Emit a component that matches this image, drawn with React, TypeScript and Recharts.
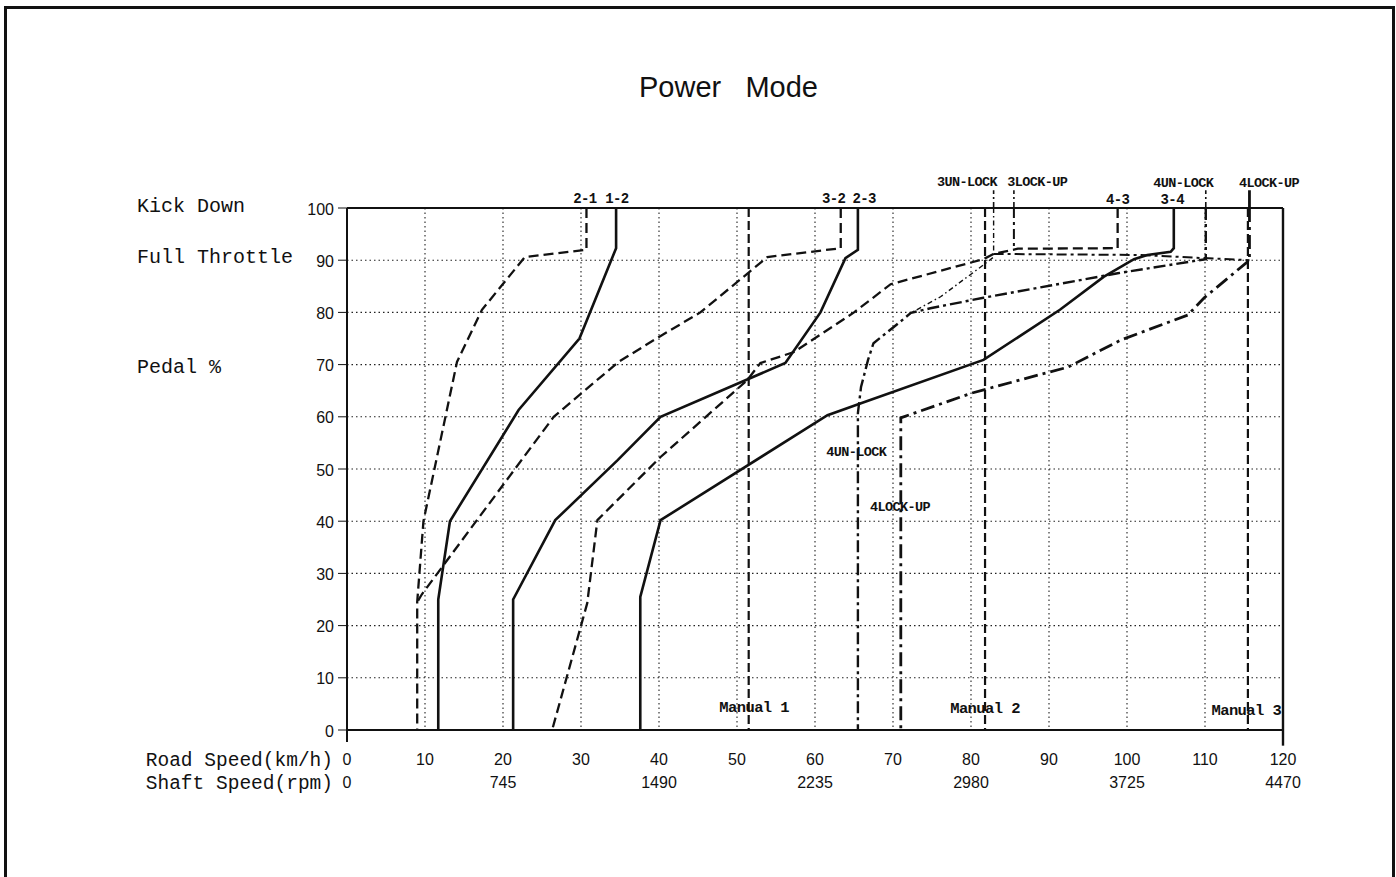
import { LineChart, Line, XAxis, YAxis, CartesianGrid, ReferenceLine, ReferenceDot } from "recharts";

type Pt = [number, number];

// road speed (km/h) vs pedal %
const roadTicks = [0, 10, 20, 30, 40, 50, 60, 70, 80, 90, 100, 110, 120];
const shaftLabels = ["0", "", "745", "", "1490", "", "2235", "", "2980", "", "3725", "", "4470"];
const pedalTicks = [0, 10, 20, 30, 40, 50, 60, 70, 80, 90, 100];

const shift12: Pt[] = [[34.5, 100], [34.5, 92.3], [29.8, 75], [22, 61.3], [13.2, 40], [11.7, 25], [11.7, 0]];
const shift21: Pt[] = [[30.7, 100], [30.7, 92], [22.8, 90.6], [17.3, 80.5], [14.1, 70.5], [9.8, 40], [9, 24.5], [9, 0]];
const shift23: Pt[] = [[65.5, 100], [65.5, 92], [63.9, 90.4], [60.7, 80], [56.2, 70.3], [40.2, 60], [34.7, 51.7], [26.7, 40.2], [21.3, 25], [21.3, 0]];
const shift32: Pt[] = [[63.3, 100], [63.3, 92.3], [53.9, 90.6], [45.3, 80], [40, 75.3], [34.8, 70.5], [26.5, 60], [9.6, 26], [9, 24.5]];
const shift34: Pt[] = [[106, 100], [106, 92.3], [105.6, 91.6], [102.6, 91], [100.9, 90.2], [97, 86.8], [91.4, 80.5], [81.6, 70.9], [65.9, 62.6], [61.6, 60.3], [40.2, 40.2], [37.6, 25.5], [37.6, 0]];
const shift43: Pt[] = [[98.8, 100], [98.8, 92.3], [86, 92.2], [82.9, 91.2], [81.6, 90.2], [69.7, 85.4], [65, 80], [57.3, 72.4], [53, 70.3], [51.3, 67], [40.2, 52.3], [32.1, 40.2], [30.8, 24.3], [26.3, 0]];

const unlock3: Pt[] = [[82.9, 100], [82.9, 90.6], [81.6, 89.1], [76.1, 83], [72.3, 79.9]];
const lockup3: Pt[] = [[85.5, 100], [85.5, 92.3]];
const lockup3Link: Pt[] = [[82.9, 91.2], [101.8, 91], [109.9, 90.4], [115.7, 90]];
const unlock4: Pt[] = [[110.1, 100], [110.1, 90.2], [98.8, 87.5], [81.6, 82.8], [74.8, 80.8], [72.3, 79.9], [70.1, 77.2], [67.5, 74.1], [66.8, 70.9], [65.9, 65.7], [65.5, 60.7], [65.5, 0]];
const lockup4: Pt[] = [[115.7, 100], [115.7, 90], [109.9, 82.8], [107.8, 79.5], [99.2, 74.7], [92.4, 69.5], [88.6, 68], [80, 64.5], [71, 59.8], [71, 0]];

const manual1: Pt[] = [[51.5, 100], [51.5, 0]];
const manual2: Pt[] = [[81.8, 100], [81.8, 0]];
const manual3: Pt[] = [[115.5, 100], [115.5, 0]];

// stubs of the lock lines above the frame
const lockStubs = [82.9, 85.5, 110.1, 115.7];

const shiftNames = ["2-1", "1-2", "3-2", "2-3", "4-3", "3-4"];
const shiftNameX = [30.5, 34.6, 62.4, 66.3, 98.8, 105.8];
const lockNames = ["3UN-LOCK", "3LOCK-UP", "4UN-LOCK", "4LOCK-UP", "4UN-LOCK", "4LOCK-UP"];
const lockNameX = [79.5, 88.5, 107.2, 118.2, 65.3, 70.9];
const lockNameY = [104.2, 104.2, 104, 104, 52.5, 42];
const manualNames = ["Manual 1", "Manual 2", "Manual 3"];
const manualNameX = [52.2, 81.8, 115.3];
const manualNameY = [3.4, 3.3, 2.9];

const ink = "#111";
const toData = (pts: Pt[]) => pts.map(([x, y]) => ({ x, y }));

function SpeedTick(props: any) {
  const { x, y, payload } = props;
  const i = roadTicks.indexOf(payload.value);
  return (
    <g fontFamily="Liberation Sans, Arial, sans-serif" fontSize={16} fill={ink}>
      <text x={x} y={y + 35} textAnchor="middle">{payload.value}</text>
      <text x={x} y={y + 58} textAnchor="middle">{shaftLabels[i]}</text>
      {payload.value === 0 && (
        <g fontFamily="Liberation Mono, monospace" fontSize={19.5}>
          <text x={x - 14} y={y + 36} textAnchor="end">Road Speed(km/h)</text>
          <text x={x - 14} y={y + 59} textAnchor="end">Shaft Speed(rpm)</text>
        </g>
      )}
    </g>
  );
}

function tag(text: string, size: number) {
  return (p: any) => (
    <text x={p.cx} y={p.cy} textAnchor="middle" fontFamily="Liberation Mono, monospace" fontWeight="bold" fontSize={size} fill={ink} letterSpacing={-0.6}>
      {text}
    </text>
  );
}

const solid = { stroke: ink, strokeWidth: 2.6 };
const dashed = { stroke: ink, strokeWidth: 2.3, strokeDasharray: "10 5" };

export default function App() {
  return (
    <div style={{ position: "absolute", left: 0, top: 0, width: 1396, height: 877, overflow: "hidden", background: "#fff" }}>
      <div style={{ position: "absolute", left: 4, top: 6, width: 1391, height: 900, border: "3px solid #111", boxSizing: "border-box" }} />
      <div style={{ position: "absolute", left: 0, width: 1457, top: 71, textAlign: "center", fontFamily: "Liberation Sans, Arial, sans-serif", fontSize: 29, whiteSpace: "pre", color: ink }}>
        Power   Mode
      </div>
      <div style={{ position: "absolute", left: 137, top: 0, fontFamily: "Liberation Mono, monospace", fontSize: 20, color: ink, whiteSpace: "pre" }}>
        <div style={{ position: "absolute", top: 195 }}>Kick Down</div>
        <div style={{ position: "absolute", top: 246 }}>Full Throttle</div>
        <div style={{ position: "absolute", top: 356 }}>Pedal %</div>
      </div>
      <div style={{ position: "absolute", left: 0, top: 0 }}>
        <LineChart width={1396} height={877} margin={{ top: 208, right: 113, bottom: 117, left: 307 }}>
          <CartesianGrid stroke="#222" strokeWidth={1.1} strokeDasharray="1.5 3" />
          <XAxis
            dataKey="x"
            type="number"
            domain={[0, 120]}
            ticks={roadTicks}
            interval={0}
            tickSize={0}
            tickMargin={0}
            height={30}
            axisLine={{ stroke: ink, strokeWidth: 2 }}
            tick={<SpeedTick />}
          />
          <YAxis
            dataKey="y"
            type="number"
            domain={[0, 100]}
            ticks={pedalTicks}
            interval={0}
            width={40}
            tickSize={9}
            tickMargin={4}
            axisLine={{ stroke: ink, strokeWidth: 2 }}
            tickLine={{ stroke: ink }}
            tick={{ fill: ink, fontSize: 16, fontFamily: "Liberation Sans, Arial, sans-serif", dy: 1 }}
          />
          <ReferenceLine y={100} stroke={ink} strokeWidth={2} />
          <ReferenceLine x={120} stroke={ink} strokeWidth={2.4} />
          <ReferenceLine segment={[{ x: 120, y: 0 }, { x: 120, y: -3 }]} stroke={ink} strokeWidth={2.4} ifOverflow="visible" />
          <ReferenceLine segment={[{ x: 0, y: 0 }, { x: 0, y: -2.3 }]} stroke={ink} strokeWidth={2} ifOverflow="visible" />
          {lockStubs.map((v, i) => (
            <ReferenceLine key={"stub" + i} segment={[{ x: v, y: 100 }, { x: v, y: 103.4 }]} stroke={ink} strokeWidth={i === 3 ? 2.8 : 1.6} strokeDasharray={i === 3 ? undefined : "6 3 2 3"} ifOverflow="visible" />
          ))}

          <Line data={toData(manual1)} dataKey="y" type="linear" dot={false} isAnimationActive={false} stroke={ink} strokeWidth={2.2} strokeDasharray="9 4" />
          <Line data={toData(manual2)} dataKey="y" type="linear" dot={false} isAnimationActive={false} stroke={ink} strokeWidth={2.2} strokeDasharray="9 4" />
          <Line data={toData(manual3)} dataKey="y" type="linear" dot={false} isAnimationActive={false} stroke={ink} strokeWidth={2.2} strokeDasharray="9 4" />

          <Line data={toData(shift21)} dataKey="y" type="linear" dot={false} isAnimationActive={false} {...dashed} />
          <Line data={toData(shift32)} dataKey="y" type="linear" dot={false} isAnimationActive={false} {...dashed} />
          <Line data={toData(shift43)} dataKey="y" type="linear" dot={false} isAnimationActive={false} {...dashed} />
          <Line data={toData(shift12)} dataKey="y" type="linear" dot={false} isAnimationActive={false} {...solid} />
          <Line data={toData(shift23)} dataKey="y" type="linear" dot={false} isAnimationActive={false} {...solid} />
          <Line data={toData(shift34)} dataKey="y" type="linear" dot={false} isAnimationActive={false} {...solid} />

          <Line data={toData(unlock3)} dataKey="y" type="linear" dot={false} isAnimationActive={false} stroke={ink} strokeWidth={1.4} strokeDasharray="5 3 1.5 3" />
          <Line data={toData(lockup3)} dataKey="y" type="linear" dot={false} isAnimationActive={false} stroke={ink} strokeWidth={2} strokeDasharray="10 4 3 4" />
          <Line data={toData(lockup3Link)} dataKey="y" type="linear" dot={false} isAnimationActive={false} stroke={ink} strokeWidth={2} strokeDasharray="10 4 3 4" />
          <Line data={toData(unlock4)} dataKey="y" type="linear" dot={false} isAnimationActive={false} stroke={ink} strokeWidth={2.4} strokeDasharray="12 4 3 4" />
          <Line data={toData(lockup4)} dataKey="y" type="linear" dot={false} isAnimationActive={false} stroke={ink} strokeWidth={2.8} strokeDasharray="14 5 3 5" />

          {shiftNames.map((s, i) => (
            <ReferenceDot key={"s" + i} x={shiftNameX[i]} y={100} r={0} ifOverflow="visible" shape={(p: any) => tag(s, 14)({ ...p, cy: p.cy - (i < 4 ? 5 : 4) })} />
          ))}
          {lockNames.map((s, i) => (
            <ReferenceDot key={"l" + i} x={lockNameX[i]} y={lockNameY[i]} r={0} ifOverflow="visible" shape={tag(s, 13.5)} />
          ))}
          {manualNames.map((s, i) => (
            <ReferenceDot key={"m" + i} x={manualNameX[i]} y={manualNameY[i]} r={0} ifOverflow="visible" shape={tag(s, 15.5)} />
          ))}
        </LineChart>
      </div>
    </div>
  );
}
